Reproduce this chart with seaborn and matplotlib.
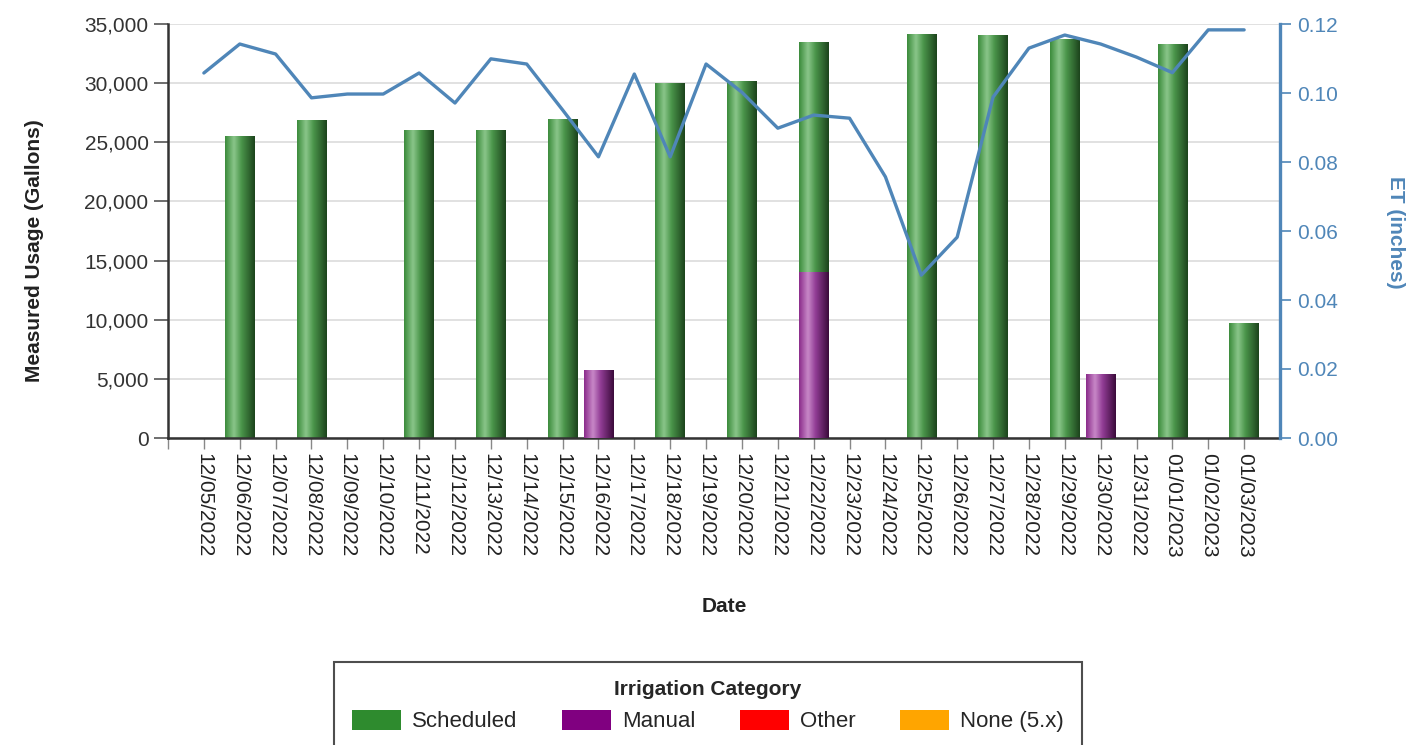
import numpy as np
import pandas as pd
import matplotlib
matplotlib.use("Agg")
import matplotlib.pyplot as plt
from matplotlib.colors import LinearSegmentedColormap
from matplotlib.patches import Patch
import seaborn as sns

dates = ["12/05/2022", "12/06/2022", "12/07/2022", "12/08/2022", "12/09/2022",
         "12/10/2022", "12/11/2022", "12/12/2022", "12/13/2022", "12/14/2022",
         "12/15/2022", "12/16/2022", "12/17/2022", "12/18/2022", "12/19/2022",
         "12/20/2022", "12/21/2022", "12/22/2022", "12/23/2022", "12/24/2022",
         "12/25/2022", "12/26/2022", "12/27/2022", "12/28/2022", "12/29/2022",
         "12/30/2022", "12/31/2022", "01/01/2023", "01/02/2023", "01/03/2023"]
scheduled = [0, 25500, 0, 26900, 0, 0, 26000, 0, 26000, 0,
             27000, 0, 0, 30050, 0, 30200, 0, 19400, 0, 0,
             34150, 0, 34100, 0, 33750, 0, 0, 33300, 0, 9750]
manual = [0, 0, 0, 0, 0, 0, 0, 0, 0, 0,
          0, 5750, 0, 0, 0, 0, 0, 14050, 0, 0,
          0, 0, 0, 0, 0, 5400, 0, 0, 0, 0]
et = [0.1058, 0.1142, 0.1113, 0.0986, 0.0997, 0.0997, 0.1058, 0.0971, 0.1099, 0.1084,
      0.0951, 0.0815, 0.1055, 0.0815, 0.1084, 0.1002, 0.0898, 0.0936, 0.0927, 0.0757,
      0.0472, 0.0582, 0.0988, 0.1130, 0.1168, 0.1142, 0.1104, 0.1059, 0.1183, 0.1183]
categories = ["Scheduled", "Manual", "Other", "None (5.x)"]
cat_colors = ["#2e8b2e", "#800080", "#ff0000", "#ffa500"]
y_ticks = [0, 5000, 10000, 15000, 20000, 25000, 30000, 35000]
et_ticks = [0.00, 0.02, 0.04, 0.06, 0.08, 0.10, 0.12]

sns.set_style("white")
plt.rcParams["font.family"] = ["Liberation Sans", "DejaVu Sans"]

df = pd.DataFrame({"date": dates, "scheduled": scheduled, "manual": manual, "et": et})
df["total"] = df["scheduled"] + df["manual"]
df["pos"] = np.arange(len(df))

fig = plt.figure(figsize=(14.14, 7.45), dpi=100)
ax = fig.add_axes([168/1414, 1-438/745, (1280-168)/1414, (438-24)/745])

sns.barplot(data=df, x="date", y="total", order=dates, color=cat_colors[0],
            width=0.82, ax=ax, zorder=2, saturation=1, linewidth=0)
n_green = len(ax.patches)
sns.barplot(data=df, x="date", y="manual", order=dates, color=cat_colors[1],
            width=0.82, ax=ax, zorder=3, saturation=1, linewidth=0)

green_cmap = LinearSegmentedColormap.from_list(
    "g", [(0, "#3a8a3a"), (0.3, "#8ac68a"), (0.55, "#4a954a"), (1, "#1c431c")])
purple_cmap = LinearSegmentedColormap.from_list(
    "p", [(0, "#8a2a8a"), (0.3, "#c888c8"), (0.55, "#923d96"), (1, "#3a0a3a")])
grad = np.linspace(0, 1, 256).reshape(1, -1)
for i, p in enumerate(list(ax.patches)):
    h = p.get_height()
    if h <= 0:
        p.set_visible(False)
        continue
    x0 = p.get_x(); w = p.get_width(); y0 = p.get_y()
    cmap = green_cmap if i < n_green else purple_cmap
    im = ax.imshow(grad, cmap=cmap, aspect="auto", extent=(x0, x0 + w, y0, y0 + h),
                   zorder=p.get_zorder() + 0.1, interpolation="bicubic")
    im.set_clip_path(p)

ax.set_xlim(-1, len(dates))
ax.set_ylim(0, 35000)
ax.set_yticks(y_ticks)
ax.set_yticklabels([f"{v:,}" for v in y_ticks], color="#333333", fontsize=15)
ax.set_xticks(np.arange(-1, len(dates)))
ax.set_xticklabels([""] + dates, rotation=270, fontsize=15, color="#222222")
ax.set_xlabel(""); ax.set_ylabel("")
ax.grid(axis="y", color="#dcdcdc", linewidth=1.2, zorder=0)
ax.set_axisbelow(True)
ax.tick_params(axis="y", direction="out", length=10, width=1.2, color="#555555", pad=4, left=True)
ax.tick_params(axis="x", direction="out", length=8, width=1, color="#888888", pad=3, bottom=True)
for s in ["top", "right"]:
    ax.spines[s].set_visible(False)
ax.spines["left"].set_color("#333333"); ax.spines["left"].set_linewidth(1.8)
ax.spines["bottom"].set_color("#333333"); ax.spines["bottom"].set_linewidth(1.8)

ax2 = ax.twinx()
line_color = "#4f86b8"
sns.lineplot(data=df, x="pos", y="et", ax=ax2, color=line_color, linewidth=2.4, zorder=5)
ax2.set_ylim(0, 0.12)
ax2.set_xlim(-1, len(dates))
ax2.set_yticks(et_ticks)
ax2.set_yticklabels([f"{v:.2f}" for v in et_ticks], color=line_color, fontsize=15)
ax2.set_xlabel(""); ax2.set_ylabel("")
ax2.tick_params(axis="y", direction="out", length=8, width=1.2, color=line_color, pad=4, right=True)
for s in ["top", "left", "bottom"]:
    ax2.spines[s].set_visible(False)
ax2.spines["right"].set_color(line_color); ax2.spines["right"].set_linewidth(2.4)

fig.text(35/1414, 1-251/745, "Measured Usage (Gallons)", rotation=90, ha="center", va="center",
         fontsize=15, fontweight="bold", color="#222222")
fig.text(1395/1414, 1-232/745, "ET (inches)", rotation=270, ha="center", va="center",
         fontsize=15, fontweight="bold", color=line_color)
fig.text(724/1414, 1-607/745, "Date", ha="center", va="center",
         fontsize=15, fontweight="bold", color="#222222")

handles = [Patch(facecolor=c, edgecolor="none") for c in cat_colors]
leg = fig.legend(handles, categories, loc="upper center", bbox_to_anchor=(708/1414, 1-662/745),
                 ncol=4, frameon=True, fancybox=False, fontsize=16,
                 title="Irrigation Category", title_fontproperties={"weight": "bold", "size": 15},
                 handlelength=2.2, handleheight=1.0, columnspacing=2.0, handletextpad=0.5,
                 borderpad=0.8, borderaxespad=0)
leg.get_frame().set_edgecolor("#222222")
leg.get_frame().set_linewidth(1.5)

fig.savefig("out.png", dpi=100)
